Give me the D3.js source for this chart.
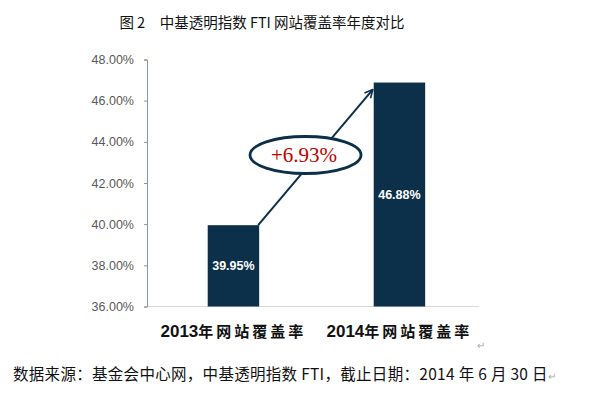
<!DOCTYPE html>
<html>
<head>
<meta charset="utf-8" />
<title>图2 中基透明指数FTI网站覆盖率年度对比</title>
<script type="text/javascript" src="https://cdn.jsdelivr.net/npm/d3@7/dist/d3.min.js"></script>
<style>
body { margin: 0; background: #fff; }
text { font-family: "Liberation Sans", Arial, "Noto Sans CJK SC", sans-serif; }
</style>
</head>
<body>
<div id="chart"></div>
<script>
// data
const years = ["2013", "2014"];
const categories = ["2013年网站覆盖率", "2014年网站覆盖率"];
const coverage = [39.95, 46.88];
const yTicks = [36, 38, 40, 42, 44, 46, 48];

const width = 591, height = 398;
const margin = {top: 59.5, right: 112, bottom: 91.5, left: 147};
const navy = "#0c2f4a";

const svg = d3.select("#chart").append("svg")
	.attr("width", width)
	.attr("height", height);

const x = d3.scaleBand()
	.domain(categories)
	.range([margin.left, width - margin.right])
	.paddingInner(0.69)
	.paddingOuter(0.345)
	.align(0.53);
const y = d3.scaleLinear()
	.domain([36, 48])
	.range([height - margin.bottom, margin.top]);

// title
svg.append("text")
	.attr("x", 262)
	.attr("y", 28)
	.attr("text-anchor", "middle")
	.style("font-family", "'Noto Sans CJK SC', sans-serif")
	.style("font-size", "14.5px")
	.attr("fill", "#111")
	.text("图 2\u3000中基透明指数 FTI 网站覆盖率年度对比");

// baseline
svg.append("line")
	.attr("x1", margin.left).attr("x2", width - margin.right)
	.attr("y1", y(36)).attr("y2", y(36))
	.attr("stroke", "#d9d9d9");

// y axis
const yAxis = svg.append("g")
	.attr("transform", "translate(" + margin.left + ",0)")
	.call(d3.axisLeft(y).tickValues(yTicks).tickSize(3).tickPadding(10)
		.tickFormat(d => d.toFixed(2) + "%"));
yAxis.select(".domain").attr("stroke", "#8a96a3");
yAxis.selectAll(".tick line").attr("stroke", "#8a96a3");
yAxis.selectAll(".tick text")
	.attr("fill", "#595959")
	.style("font-size", "12.5px")
	.style("font-family", "'Liberation Sans', Arial, sans-serif");

// bars
svg.append("g").selectAll("rect")
	.data(coverage)
	.enter()
	.append("rect")
		.attr("x", (d, i) => x(categories[i]))
		.attr("y", d => y(d))
		.attr("width", x.bandwidth())
		.attr("height", d => y(36) - y(d))
		.attr("fill", navy);

svg.append("g").selectAll("text")
	.data(coverage)
	.enter()
	.append("text")
		.attr("x", (d, i) => x(categories[i]) + x.bandwidth() / 2)
		.attr("y", d => (y(d) + y(36)) / 2 + 4.5)
		.attr("text-anchor", "middle")
		.attr("fill", "#fff")
		.style("font-weight", "bold")
		.style("font-size", "12.5px")
		.text(d => d.toFixed(2) + "%");

// category labels
const xl = svg.append("g").selectAll("text")
	.data(categories)
	.enter()
	.append("text")
		.attr("x", d => x(d) + x.bandwidth() / 2)
		.attr("y", 337)
		.attr("text-anchor", "middle")
		.attr("fill", "#111")
		.style("font-weight", "bold")
		.style("font-size", "17px");
xl.append("tspan").text((d, i) => years[i]);
xl.append("tspan")
	.style("font-family", "'Noto Sans CJK SC', sans-serif")
	.style("font-size", "15px")
	.style("letter-spacing", "3px")
	.text(d => d.slice(4));

// arrow from bar 1 to bar 2
svg.append("defs").append("marker")
	.attr("id", "head")
	.attr("viewBox", "0 0 10 10")
	.attr("refX", 9).attr("refY", 5)
	.attr("markerWidth", 5).attr("markerHeight", 5)
	.attr("markerUnits", "strokeWidth")
	.attr("orient", "auto")
	.append("path")
		.attr("d", "M1,1L9,5L1,9")
		.attr("fill", "none")
		.attr("stroke", navy)
		.attr("stroke-width", 1.6);

const x0 = x(categories[0]) + x.bandwidth() - 1, y0 = y(coverage[0]);
const x1 = x(categories[1]) - 1, y1 = y(coverage[1]) + 7;
svg.append("line")
	.attr("x1", x0).attr("y1", y0)
	.attr("x2", x1).attr("y2", y1)
	.attr("stroke", navy)
	.attr("stroke-width", 2)
	.attr("marker-end", "url(#head)");

// change bubble
const diff = coverage[1] - coverage[0];
svg.append("ellipse")
	.attr("cx", 305.5).attr("cy", 155)
	.attr("rx", 55.5).attr("ry", 18.5)
	.attr("fill", "#fff")
	.attr("stroke", navy)
	.attr("stroke-width", 2.8);
svg.append("text")
	.attr("x", 304)
	.attr("y", 162)
	.attr("text-anchor", "middle")
	.attr("fill", "#c00000")
	.style("font-family", "'Liberation Serif', 'Times New Roman', serif")
	.style("font-size", "21px")
	.text("+" + diff.toFixed(2) + "%");

// paragraph marks
svg.append("text")
	.attr("x", 477).attr("y", 349)
	.attr("fill", "#aaa")
	.style("font-size", "10px")
	.text("↵");

// source note
svg.append("text")
	.attr("x", 13)
	.attr("y", 380)
	.attr("fill", "#111")
	.style("font-family", "'Noto Sans CJK SC', sans-serif")
	.style("font-size", "15.5px")
	.style("letter-spacing", "0.3px")
	.text("数据来源：基金会中心网，中基透明指数 FTI，截止日期：2014 年 6 月 30 日")
	.append("tspan")
		.attr("fill", "#aaa")
		.style("font-size", "10px")
		.text("↵");
</script>
</body>
</html>
